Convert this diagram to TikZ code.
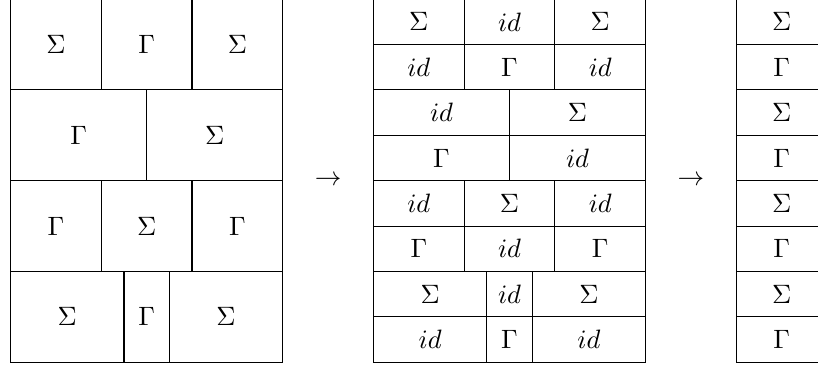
\documentclass[tikz,border=0pt]{standalone}
\usetikzlibrary{positioning}

\tikzset{
  lbl/.style={inner sep=0pt, outer sep=0pt},
}

\begin{document}
\begin{tikzpicture}
\useasboundingbox (-0.14,-0.09) rectangle (10.68,4.79);

% first table
\draw (0,0) rectangle (3.6,4.8);
\draw (0,1.2) -- (3.6,1.2);
\draw (0,2.4) -- (3.6,2.4);
\draw (0,3.6) -- (3.6,3.6);
\draw (1.2,3.6) -- (1.2,4.8);
\draw (2.4,3.6) -- (2.4,4.8);
\draw (1.8,2.4) -- (1.8,3.6);
\draw (1.2,1.2) -- (1.2,2.4);
\draw (2.4,1.2) -- (2.4,2.4);
\draw (1.5,0) -- (1.5,1.2);
\draw (2.1,0) -- (2.1,1.2);

\node[lbl] (l11) at (0.6,4.2) {$\Sigma$};
\node[lbl] (l12) at (1.8,4.2) {$\Gamma$};
\node[lbl] (l13) at (3.0,4.2) {$\Sigma$};
\node[lbl] (l21) at (0.9,3.0) {$\Gamma$};
\node[lbl] (l22) at (2.7,3.0) {$\Sigma$};
\node[lbl] (l31) at (0.6,1.8) {$\Gamma$};
\node[lbl] (l32) at (1.8,1.8) {$\Sigma$};
\node[lbl] (l33) at (3.0,1.8) {$\Gamma$};
\node[lbl] (l41) at (0.75,0.6) {$\Sigma$};
\node[lbl] (l42) at (1.8,0.6) {$\Gamma$};
\node[lbl] (l43) at (2.85,0.6) {$\Sigma$};

\node (to1) at (4.2,2.4) {$\to$};

% second table
\draw (4.8,0) rectangle (8.4,4.8);
\foreach \y in {0.6,1.2,...,4.2}
  \draw (4.8,\y) -- (8.4,\y);
\draw (6.0,3.6) -- (6.0,4.8);
\draw (7.2,3.6) -- (7.2,4.8);
\draw (6.6,2.4) -- (6.6,3.6);
\draw (6.0,1.2) -- (6.0,2.4);
\draw (7.2,1.2) -- (7.2,2.4);
\draw (6.3,0) -- (6.3,1.2);
\draw (6.9,0) -- (6.9,1.2);

\node[lbl] (m11) at (5.4,4.5) {$\Sigma$};
\node[lbl] (m12) at (6.6,4.5) {$id$};
\node[lbl] (m13) at (7.8,4.5) {$\Sigma$};
\node[lbl] (m21) at (5.4,3.9) {$id$};
\node[lbl] (m22) at (6.6,3.9) {$\Gamma$};
\node[lbl] (m23) at (7.8,3.9) {$id$};
\node[lbl] (m31) at (5.7,3.3) {$id$};
\node[lbl] (m32) at (7.5,3.3) {$\Sigma$};
\node[lbl] (m41) at (5.7,2.7) {$\Gamma$};
\node[lbl] (m42) at (7.5,2.7) {$id$};
\node[lbl] (m51) at (5.4,2.1) {$id$};
\node[lbl] (m52) at (6.6,2.1) {$\Sigma$};
\node[lbl] (m53) at (7.8,2.1) {$id$};
\node[lbl] (m61) at (5.4,1.5) {$\Gamma$};
\node[lbl] (m62) at (6.6,1.5) {$id$};
\node[lbl] (m63) at (7.8,1.5) {$\Gamma$};
\node[lbl] (m71) at (5.55,0.9) {$\Sigma$};
\node[lbl] (m72) at (6.6,0.9) {$id$};
\node[lbl] (m73) at (7.65,0.9) {$\Sigma$};
\node[lbl] (m81) at (5.55,0.3) {$id$};
\node[lbl] (m82) at (6.6,0.3) {$\Gamma$};
\node[lbl] (m83) at (7.65,0.3) {$id$};

\node (to2) at (9.0,2.4) {$\to$};

% third table
\draw (9.6,0) rectangle (10.8,4.8);
\foreach \y in {0.6,1.2,...,4.2}
  \draw (9.6,\y) -- (10.8,\y);
\foreach \n/\t [count=\i] in {r1/\Sigma,r2/\Gamma,r3/\Sigma,r4/\Gamma,r5/\Sigma,r6/\Gamma,r7/\Sigma,r8/\Gamma}
  \node[lbl] (\n) at (10.2,4.8-0.6*\i+0.3) {$\t$};
\end{tikzpicture}
\end{document}
